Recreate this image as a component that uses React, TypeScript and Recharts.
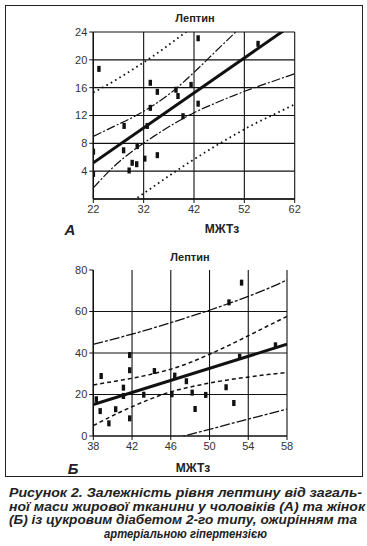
import React from 'react';
import {
  ComposedChart,
  Line,
  Scatter,
  XAxis,
  YAxis,
  CartesianGrid,
  ReferenceLine
} from 'recharts';

// ---- chart A (men) ----
const xTicksA = [22, 32, 42, 52, 62];
const yTicksA = [4, 8, 12, 16, 20, 24];
const ptsAx = [22, 22, 23.1, 28.1, 28, 29.1, 29.7, 30.6, 30.7, 32.2, 32.7, 33.3, 33.3, 34.7, 34.7, 38.4, 38.8, 39.8, 41.4, 42.8, 42.8, 54.7];
const ptsAy = [6.8, 3.6, 18.7, 10.5, 7.0, 4.1, 5.2, 5.0, 7.6, 5.8, 10.5, 13.1, 16.7, 15.4, 6.3, 15.7, 14.8, 11.9, 16.4, 23.1, 13.7, 22.3];
const regAx = [22, 62];
const regAy = [5.2, 25.3];
const bandAx = [22, 26, 30, 34, 38, 42, 46, 50, 54, 58, 62];
const ciUpA = [9.0, 10.4, 11.8, 13.5, 15.6, 18.2, 21.0, 23.8, 26.7];
const ciLoA = [1.6, 4.6, 7.0, 9.0, 10.8, 12.4, 13.7, 14.9, 16.0, 17.0, 18.0];
const piUpA = [15.3, 16.9, 18.7, 20.6, 22.7, 24.9];
const piLoAx = [26, 30, 34, 38, 42, 46, 50, 54, 58, 62];
const piLoA = [-2.4, -0.2, 1.8, 3.8, 5.7, 7.5, 9.2, 10.8, 12.2, 13.6];

// ---- chart Б (women) ----
const xTicksB = [38, 42, 46, 50, 54, 58];
const yTicksB = [0, 20, 40, 60, 80];
const gridB = [20, 40, 60];
const ptsBx = [38.3, 38.8, 38.7, 39.6, 40.3, 41.1, 41.1, 41.75, 41.75, 41.75, 43.2, 44.3, 46.1, 46.4, 47.6, 48.2, 48.5, 49.6, 51.7, 52.0, 52.5, 53.1, 53.3, 56.8];
const ptsBy = [17.7, 28.9, 12.0, 6.1, 12.9, 23.3, 19.3, 39.0, 31.7, 8.5, 19.9, 31.3, 20.1, 29.1, 26.4, 20.9, 13.0, 19.8, 23.5, 64.4, 15.9, 38.2, 73.9, 43.7];
const regBx = [38, 58];
const regBy = [15.2, 44.2];
const bandBx = [38, 40, 42, 44, 46, 48, 50, 52, 54, 56, 58];
const ciUpB = [24.6, 26.2, 27.8, 29.8, 32.2, 35.4, 39.4, 43.7, 48.3, 53.0, 57.6];
const ciLoB = [5.0, 9.8, 14.1, 18.0, 21.3, 23.6, 25.5, 27.1, 28.4, 29.6, 30.6];
const piUpB = [44.2, 46.6, 49.1, 51.8, 54.6, 57.6, 60.6, 63.9, 67.3, 71.0, 75.2];
const piLoBx = [46, 48, 50, 52, 54, 56, 58];
const piLoB = [-1.6, 0.8, 3.2, 5.7, 8.1, 10.6, 13.0];

const captionLines = [
  'Рисунок 2. Залежність рівня лептину від загаль-',
  'ної маси жирової тканини у чоловіків (А) та жінок',
  '(Б) із цукровим діабетом 2-го типу, ожирінням та',
  'артеріальною гіпертензією'
];

const FONT = '"Liberation Sans", Arial, Helvetica, sans-serif';
const INK = '#111';

const toPts = (xs: number[], ys: number[]) => ys.map((y, i) => ({ x: xs[i], y }));

const Marker = (props: any) => {
  const { cx, cy } = props;
  if (cx == null || cy == null) return null;
  return <rect x={cx - 1.6} y={cy - 3} width={3.4} height={6} fill={INK} />;
};

const tickStyle = { fontSize: 11, fill: '#333', fontFamily: FONT };

const Label: React.FC<{ x: number; y: number; size: number; italic?: boolean; children: React.ReactNode }> = ({ x, y, size, italic, children }) => (
  <div
    style={{
      position: 'absolute',
      left: x,
      top: y,
      transform: 'translate(-50%, -50%)',
      fontFamily: FONT,
      fontWeight: 'bold',
      fontStyle: italic ? 'italic' : 'normal',
      fontSize: size,
      lineHeight: 1,
      color: '#222',
      whiteSpace: 'nowrap'
    }}
  >
    {children}
  </div>
);

const App: React.FC = () => {
  return (
    <div style={{ position: 'absolute', left: 0, top: 0, width: 367, height: 546, background: '#fff' }}>
      <div
        style={{
          position: 'absolute',
          left: 5,
          top: 5,
          width: 356,
          height: 470,
          border: '1.5px solid #222'
        }}
      />

      {/* A */}
      <div style={{ position: 'absolute', left: 0, top: 0 }}>
        <ComposedChart width={367} height={250} margin={{ top: 32, right: 72.3, bottom: 21, left: 53.3 }}>
          <CartesianGrid stroke={INK} strokeWidth={1.1} />
          <XAxis
            type="number"
            dataKey="x"
            domain={[22, 62]}
            ticks={xTicksA}
            allowDataOverflow
            height={30}
            tick={tickStyle}
            tickSize={4}
            tickMargin={2}
            stroke={INK}
            axisLine={{ stroke: INK, strokeWidth: 1.4 }}
          />
          <YAxis
            type="number"
            dataKey="y"
            domain={[0, 24]}
            ticks={yTicksA}
            allowDataOverflow
            width={40}
            tick={tickStyle}
            tickSize={4}
            tickMargin={2}
            stroke={INK}
            axisLine={{ stroke: INK, strokeWidth: 1.4 }}
          />
          <Line data={toPts(bandAx, piUpA)} dataKey="y" type="monotone" stroke={INK} strokeWidth={1.8} strokeDasharray="1.6 3.4" dot={false} activeDot={false} isAnimationActive={false} />
          <Line data={toPts(piLoAx, piLoA)} dataKey="y" type="monotone" stroke={INK} strokeWidth={1.8} strokeDasharray="1.6 3.4" dot={false} activeDot={false} isAnimationActive={false} />
          <Line data={toPts(bandAx, ciUpA)} dataKey="y" type="monotone" stroke={INK} strokeWidth={1.2} strokeDasharray="9 2 2 2" dot={false} activeDot={false} isAnimationActive={false} />
          <Line data={toPts(bandAx, ciLoA)} dataKey="y" type="monotone" stroke={INK} strokeWidth={1.2} strokeDasharray="9 2 2 2" dot={false} activeDot={false} isAnimationActive={false} />
          <Line data={toPts(regAx, regAy)} dataKey="y" type="linear" stroke={INK} strokeWidth={3} dot={false} activeDot={false} isAnimationActive={false} />
          <Scatter data={toPts(ptsAx, ptsAy)} dataKey="y" shape={Marker} isAnimationActive={false} />
        </ComposedChart>
      </div>
      <Label x={195} y={18} size={11}>Лептин</Label>
      <Label x={222} y={229} size={12}>МЖТз</Label>
      <Label x={70} y={229} size={15} italic>А</Label>

      {/* Б */}
      <div style={{ position: 'absolute', left: 0, top: 250 }}>
        <ComposedChart width={367} height={230} margin={{ top: 20, right: 80, bottom: 14, left: 53.3 }}>
          <CartesianGrid stroke={INK} strokeWidth={1.1} horizontal={false} />
          {gridB.map((v) => (
            <ReferenceLine key={v} y={v} stroke={INK} strokeWidth={1.1} />
          ))}
          <XAxis
            type="number"
            dataKey="x"
            domain={[38, 58]}
            ticks={xTicksB}
            allowDataOverflow
            height={30}
            tick={tickStyle}
            tickSize={4}
            tickMargin={2}
            stroke={INK}
            axisLine={{ stroke: INK, strokeWidth: 1.4 }}
          />
          <YAxis
            type="number"
            dataKey="y"
            domain={[0, 80]}
            ticks={yTicksB}
            allowDataOverflow
            width={40}
            tick={tickStyle}
            tickSize={4}
            tickMargin={2}
            stroke={INK}
            axisLine={{ stroke: INK, strokeWidth: 1.4 }}
          />
          <Line data={toPts(bandBx, piUpB)} dataKey="y" type="monotone" stroke={INK} strokeWidth={1.3} strokeDasharray="10 2 3 2" dot={false} activeDot={false} isAnimationActive={false} />
          <Line data={toPts(piLoBx, piLoB)} dataKey="y" type="monotone" stroke={INK} strokeWidth={1.3} strokeDasharray="10 2 3 2" dot={false} activeDot={false} isAnimationActive={false} />
          <Line data={toPts(bandBx, ciUpB)} dataKey="y" type="monotone" stroke={INK} strokeWidth={1.5} strokeDasharray="4 3" dot={false} activeDot={false} isAnimationActive={false} />
          <Line data={toPts(bandBx, ciLoB)} dataKey="y" type="monotone" stroke={INK} strokeWidth={1.5} strokeDasharray="4 3" dot={false} activeDot={false} isAnimationActive={false} />
          <Line data={toPts(regBx, regBy)} dataKey="y" type="linear" stroke={INK} strokeWidth={3} dot={false} activeDot={false} isAnimationActive={false} />
          <Scatter data={toPts(ptsBx, ptsBy)} dataKey="y" shape={Marker} isAnimationActive={false} />
        </ComposedChart>
      </div>
      <Label x={190} y={257} size={11}>Лептин</Label>
      <Label x={193} y={468} size={12}>МЖТз</Label>
      <Label x={73} y={468} size={15} italic>Б</Label>

      {/* caption */}
      <svg width={367} height={66} style={{ position: 'absolute', left: 0, top: 480 }}>
        {captionLines.map((line, i) => {
          const last = i === captionLines.length - 1;
          return (
            <text
              key={i}
              x={last ? 104 : 9}
              y={17 + i * 13.5}
              textLength={last ? 163 : i === 1 ? 356 : i === 2 ? 348 : 353}
              lengthAdjust="spacingAndGlyphs"
              fontFamily={FONT}
              fontWeight="bold"
              fontStyle="italic"
              fontSize={13}
              fill="#222"
            >
              {line}
            </text>
          );
        })}
      </svg>
    </div>
  );
};

export default App;
